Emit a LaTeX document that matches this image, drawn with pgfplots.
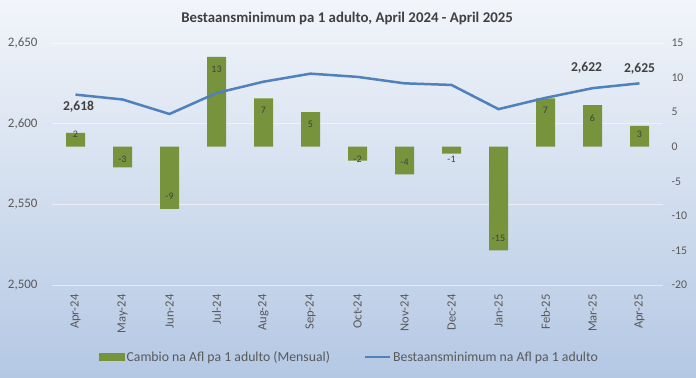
\documentclass[border=0pt]{standalone}
\usepackage{pgfplots}
\usepackage{pgfplotstable}
\pgfplotsset{compat=1.18}
\usepackage{fontspec}
\setmainfont{Carlito}
\definecolor{barg}{HTML}{77933C}
\definecolor{lineb}{HTML}{4F81BD}
\definecolor{txt}{HTML}{595959}
\definecolor{dtxt}{HTML}{404040}
\definecolor{bgtop}{RGB}{242,245,250}
\definecolor{bgbot}{RGB}{180,200,228}

\pgfplotstableread{
x val chg
0 2618 2
1 2615 -3
2 2606 -9
3 2619 13
4 2626 7
5 2631 5
6 2629 -2
7 2625 -4
8 2624 -1
9 2609 -15
10 2616 7
11 2622 6
12 2625 3
}\data

\pgfplotsset{
  /pgf/number format/.cd, 1000 sep={,}, assume math mode=true,
  /pgfplots/.cd,
  base/.style={
    at={(0,0)}, anchor=south west, scale only axis,
    width=611bp, height=242bp,
    xmin=-0.5, xmax=12.5,
    axis line style={draw=none},
    major tick length=0pt,
    clip=false,
  }
}

\begin{document}
\begin{tikzpicture}
\path[use as bounding box, top color=bgtop, bottom color=bgbot] (-52bp,-93bp) rectangle (644bp,285bp);

\begin{axis}[base,
  ymin=-20, ymax=15,
  ytick={-20,-15,...,15},
  yticklabel pos=right,
  xtick pos=bottom,
  xtick={0,...,12},
  xticklabels={Apr-24,May-24,Jun-24,Jul-24,Aug-24,Sep-24,Oct-24,Nov-24,Dec-24,Jan-25,Feb-25,Mar-25,Apr-25},
  xticklabel style={rotate=90, anchor=east, font=\fontsize{12.6}{14}\selectfont, text=txt, xshift=-6bp},
  yticklabel style={font=\fontsize{11.8}{13}\selectfont, text=txt, xshift=5bp},
  extra y ticks={-20,-8.3333,3.3333,15},
  extra y tick labels={},
  extra y tick style={grid=major, major grid style={white, opacity=0.55, line width=0.9bp}},
  ybar, bar width=19bp,
]
\addplot[fill=barg, draw=none,
  nodes near coords,
  nodes near coords align={center},
  visualization depends on={rawy \as \rawy},
  every node near coord/.append style={font=\fontsize{10}{12}\selectfont, text=dtxt, anchor=center,
     yshift={-sign(\rawy)*min(12.5,abs(\rawy)*6.914-12.5)}},
] table[x=x, y=chg] {\data};
\end{axis}

\begin{axis}[base,
  ymin=2500, ymax=2650,
  ytick={2500,2550,2600,2650},
  yticklabel pos=left,
  hide x axis,
  yticklabel style={font=\fontsize{13}{14}\selectfont, text=txt, xshift=-11bp},
  legend style={at={(0.487,-0.2975)}, anchor=center, draw=none, fill=none,
     font=\fontsize{13.8}{15}\selectfont, text=txt, legend columns=2,
     /tikz/every even column/.append style={column sep=32bp}},
]
\addlegendimage{legend image code/.code={\fill[barg] (0bp,-3.5bp) rectangle (25bp,3.5bp);}}
\addlegendentry{Cambio na Afl pa 1 adulto (Mensual)}
\addplot[lineb, line width=2.5bp, mark=none,
  legend image code/.code={\draw[lineb, line width=2.2bp] (0bp,0bp) -- (25bp,0bp);}]
  table[x=x, y=val] {\data};
\addlegendentry{Bestaansminimum na Afl pa 1 adulto}

\addplot[draw=none, mark=none, forget plot, nodes near coords,
  every node near coord/.style={font=\bfseries\fontsize{13.6}{15}\selectfont, text=dtxt, anchor=center, xshift=3bp, yshift=-12bp}]
  coordinates {(0,2618)};
\addplot[draw=none, mark=none, forget plot, nodes near coords,
  every node near coord/.style={font=\bfseries\fontsize{13.6}{15}\selectfont, text=dtxt, anchor=center, xshift=-6bp, yshift=20bp}]
  coordinates {(11,2622)};
\addplot[draw=none, mark=none, forget plot, nodes near coords,
  every node near coord/.style={font=\bfseries\fontsize{13.6}{15}\selectfont, text=dtxt, anchor=center, yshift=15bp}]
  coordinates {(12,2625)};
\end{axis}

\node[font=\bfseries\fontsize{14.9}{17}\selectfont, text=dtxt] at (295bp,267bp) {Bestaansminimum pa 1 adulto, April 2024 - April 2025};
\end{tikzpicture}
\end{document}
